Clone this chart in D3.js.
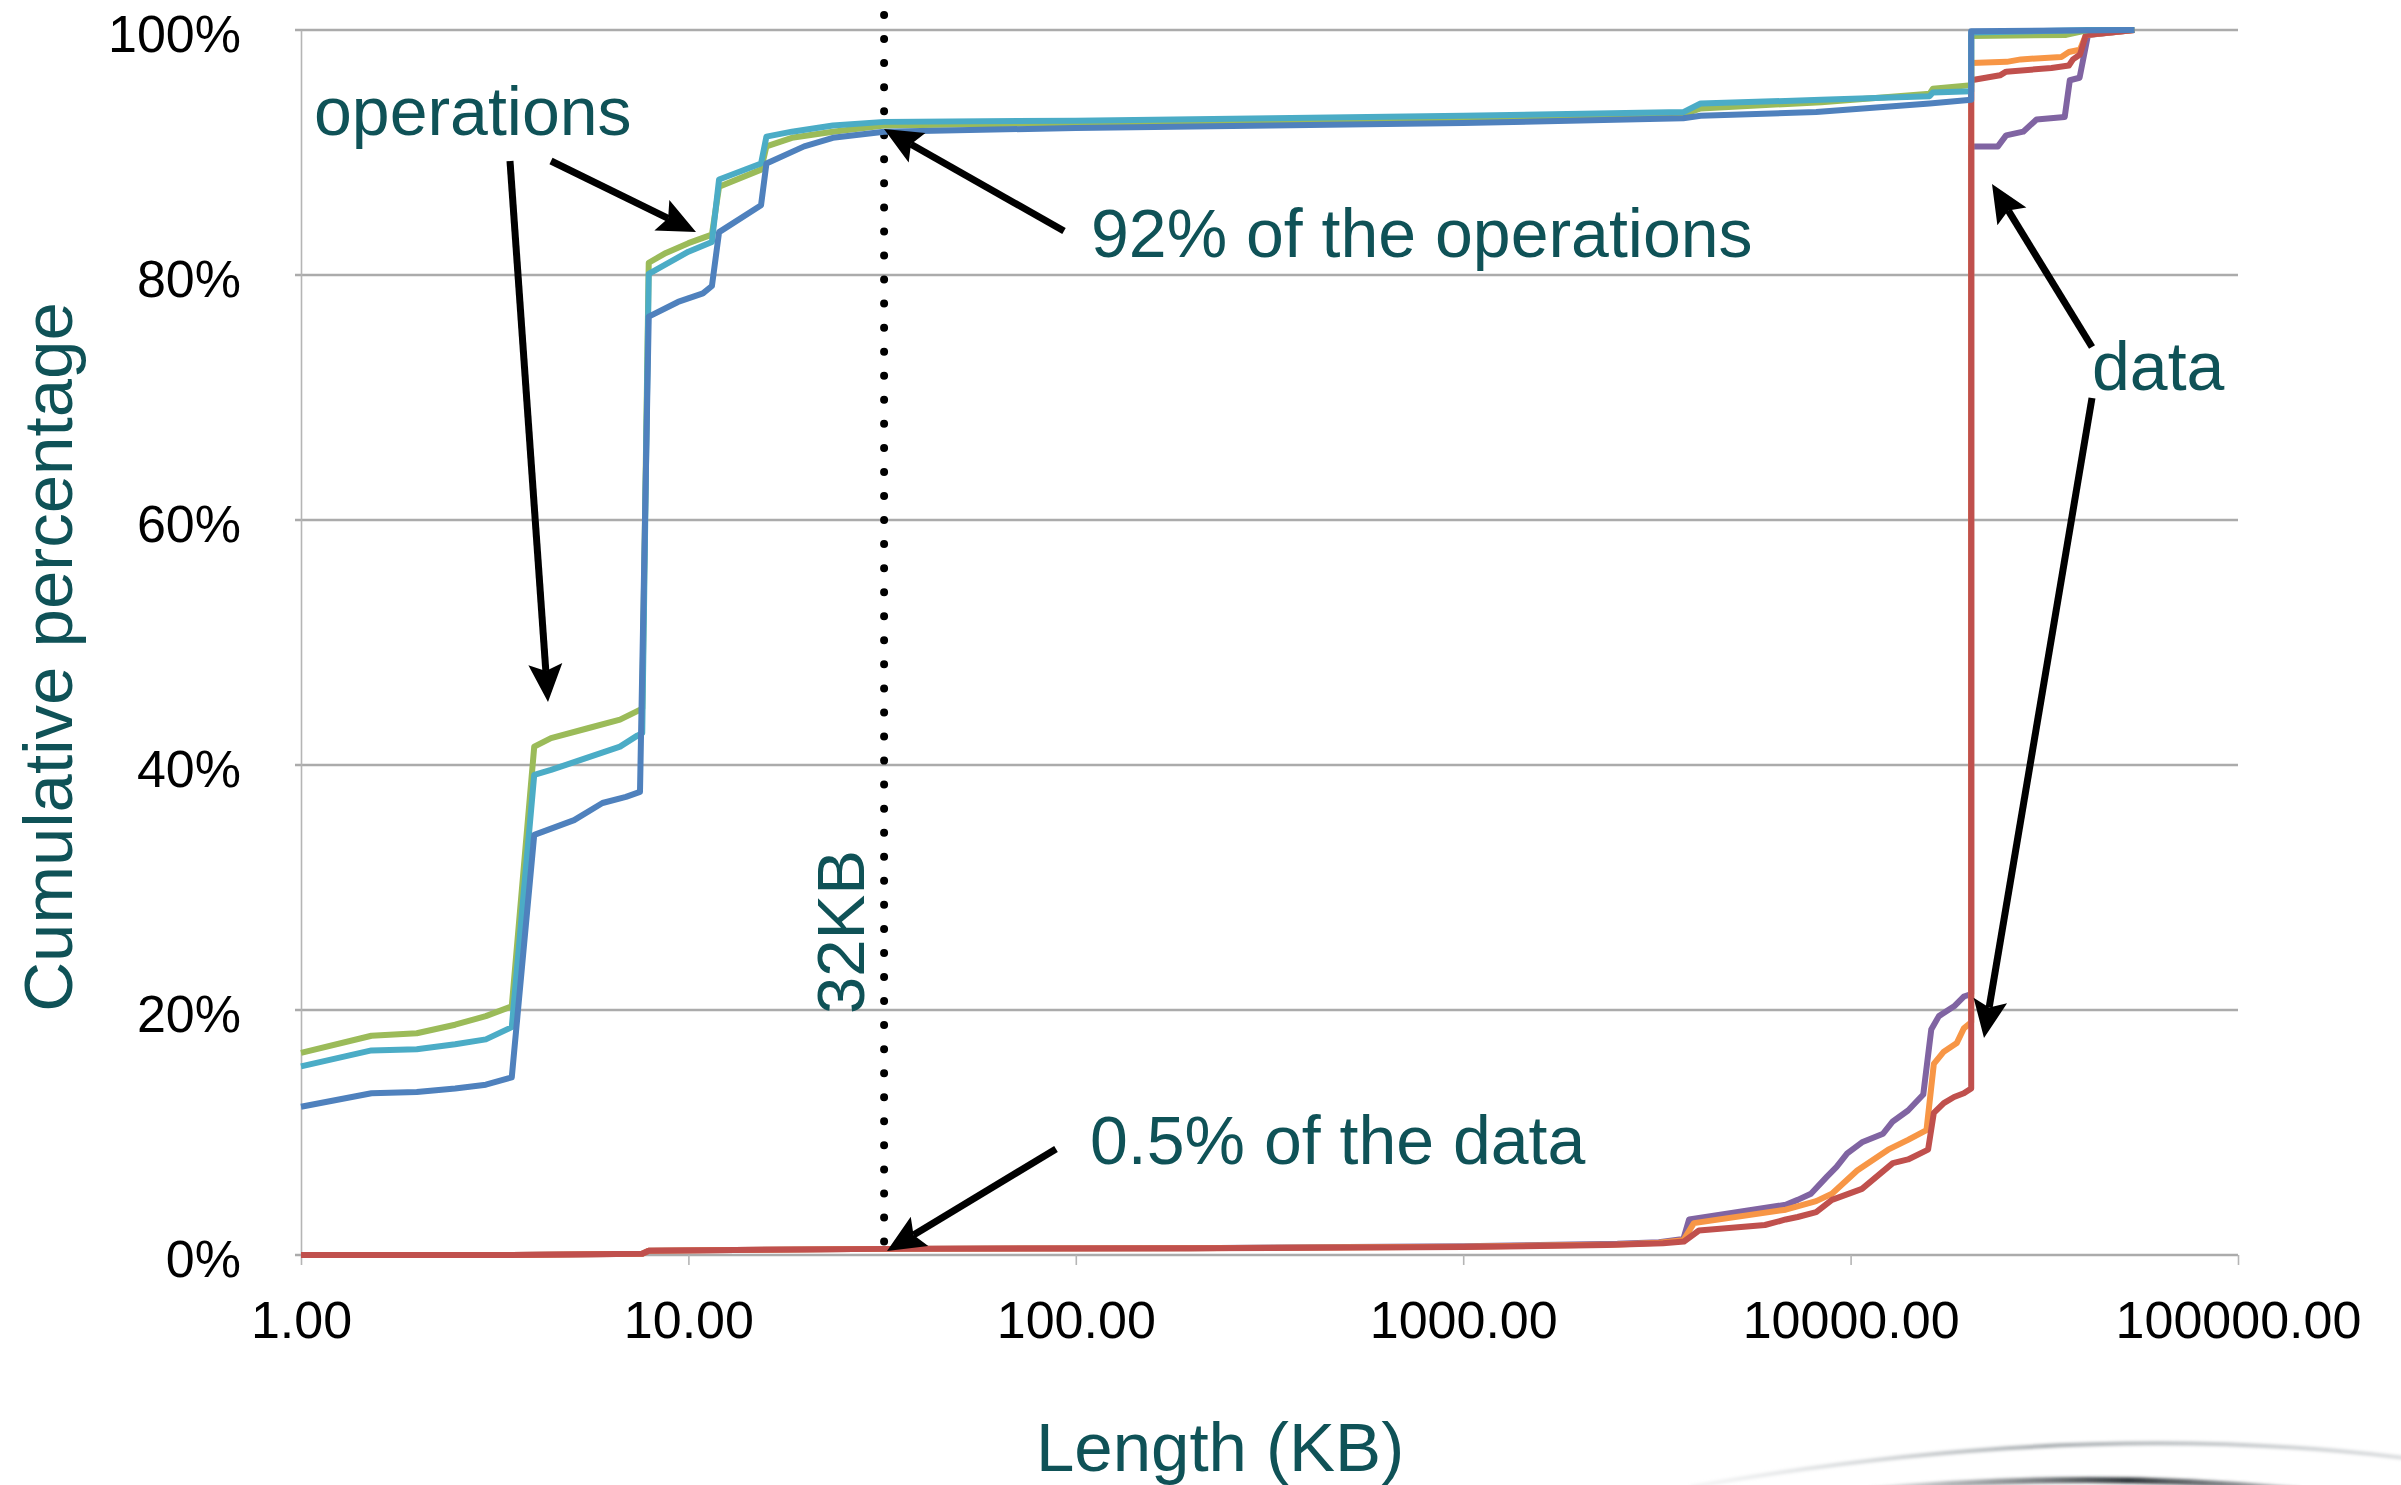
<!DOCTYPE html>
<html>
<head>
<meta charset="utf-8">
<script src="https://cdn.jsdelivr.net/npm/d3@7"></script>
<style>
  html, body { margin: 0; padding: 0; background: #ffffff; }
  svg { display: block; }
  text { font-family: "Liberation Sans", Arial, Helvetica, sans-serif; }
</style>
</head>
<body>
<svg id="chart" width="2401" height="1485"></svg>
<script>
// ---- data: [length in KB, cumulative percent] ----
const xTicks = [1, 10, 100, 1000, 10000, 100000];
const yTicks = [0, 20, 40, 60, 80, 100];

const opsBlue = [[1,12.1],[1.52,13.2],[1.99,13.3],[2.5,13.6],[3.0,13.9],[3.5,14.5],[4.0,34.3],[5.07,35.5],[6.0,36.9],[6.9,37.4],[7.5,37.8],[7.9,76.6],[9.4,77.8],[10.9,78.5],[11.5,79.1],[12.0,83.5],[15.4,85.7],[15.9,89.1],[19.9,90.5],[23.6,91.2],[32,91.7],[100,92.0],[320,92.2],[1000,92.4],[3700,92.8],[4100,93.0],[8150,93.3],[16000,94.0],[20480,94.3],[20480,99.9],[54000,100]];
const opsGreen = [[1,16.5],[1.52,17.9],[1.99,18.1],[2.5,18.8],[3.0,19.5],[3.5,20.3],[4.0,41.5],[4.42,42.2],[5.5,43.0],[6.66,43.7],[7.38,44.4],[7.6,44.6],[7.9,81.0],[8.75,81.8],[10.0,82.6],[11.5,83.3],[12.0,87.2],[15.4,88.6],[15.9,90.5],[18.5,91.2],[23.6,91.7],[32,92.2],[100,92.4],[320,92.5],[1000,92.7],[3700,93.1],[4100,93.6],[8400,94.1],[16000,94.8],[16300,95.2],[20480,95.5],[20480,99.5],[36000,99.6],[41000,100],[54000,100]];
const opsAqua = [[1,15.4],[1.52,16.7],[1.99,16.8],[2.5,17.2],[3.0,17.6],[3.5,18.6],[4.0,39.2],[4.42,39.6],[5.25,40.4],[6.66,41.5],[7.38,42.4],[7.6,42.6],[7.9,80.1],[10.0,81.9],[11.5,82.7],[12.0,87.8],[15.4,89.1],[15.9,91.3],[18.5,91.7],[23.6,92.2],[32,92.5],[100,92.6],[320,92.8],[1000,93.0],[3700,93.3],[4100,94.0],[8400,94.3],[16000,94.6],[16300,94.9],[20480,95.0],[20480,99.8],[41000,100],[54000,100]];

const dataRed = [[1,0],[3.5,0],[7.6,0.1],[7.9,0.35],[32,0.5],[200,0.55],[1000,0.65],[2350,0.82],[3280,0.95],[3715,1.1],[4060,2.0],[6010,2.45],[6800,2.9],[7300,3.1],[8150,3.5],[8950,4.5],[10700,5.4],[12850,7.5],[14070,7.8],[15850,8.6],[16400,11.6],[17400,12.4],[18500,12.9],[19600,13.2],[20480,13.6],[20480,95.9],[24300,96.3],[25200,96.6],[33000,96.9],[36600,97.1],[37500,97.6],[39100,98.0],[40500,99.6],[54000,100]];
const dataPurple = [[1,0],[3.5,0],[7.6,0.1],[7.9,0.35],[32,0.5],[200,0.56],[1000,0.72],[2500,0.92],[3200,1.05],[3700,1.3],[3830,2.9],[6800,4.1],[7300,4.5],[7900,5.0],[8690,6.4],[9200,7.2],[9800,8.3],[10700,9.2],[12130,9.9],[12850,10.9],[14070,11.8],[15400,13.1],[16150,18.4],[16900,19.5],[18500,20.3],[19600,21.1],[20480,21.3],[20480,90.5],[24000,90.5],[25200,91.4],[27900,91.7],[30200,92.7],[35700,92.9],[36800,95.9],[39000,96.1],[41000,99.6],[54000,100]];
const dataOrange = [[1,0],[3.5,0],[7.6,0.1],[7.9,0.35],[32,0.5],[200,0.55],[1000,0.68],[2500,0.86],[3200,1.0],[3700,1.2],[3940,2.6],[6800,3.7],[8150,4.4],[8950,5.0],[10400,6.9],[12500,8.6],[14070,9.4],[15700,10.2],[16400,15.6],[17400,16.6],[18800,17.3],[19600,18.5],[20480,19.0],[20480,97.3],[25300,97.4],[27500,97.6],[35000,97.8],[36600,98.2],[39100,98.4],[40500,99.6],[54000,100]];

// drawing order: data curves underneath, operation curves on top
const seriesList = [
  { name: "data B", values: dataPurple, color: "#8064a2" },
  { name: "data C", values: dataOrange, color: "#f79646" },
  { name: "data A", values: dataRed,    color: "#c0504d" },
  { name: "ops B",  values: opsGreen,   color: "#9bbb59" },
  { name: "ops C",  values: opsAqua,    color: "#4bacc6" },
  { name: "ops A",  values: opsBlue,    color: "#4f81bd" }
];

const markerKB = 32;
const annotations = [
  { text: "operations",            x: 314,  y: 135 },
  { text: "92% of the operations", x: 1091, y: 257 },
  { text: "data",                  x: 2092, y: 390 },
  { text: "0.5% of the data",      x: 1090, y: 1164 }
];
// arrows: tail -> tip
const arrows = [
  [[510, 161], [548, 702]],
  [[551, 161], [696, 232]],
  [[1064, 231], [884, 129]],
  [[1056, 1149], [887, 1251]],
  [[2092, 347], [1992, 184]],
  [[2092, 398], [1984, 1038]]
];

// ---- layout ----
const teal = "#0f5257";
const plotLeft = 301, plotRight = 2238, plotTop = 30, plotBottom = 1255;

const svg = d3.select("#chart");
const x = d3.scaleLog().domain([1, 100000]).range([plotLeft, plotRight]);
const y = d3.scaleLinear().domain([0, 100]).range([plotBottom, plotTop]);

// background swoosh at bottom right
const defs = svg.append("defs");
defs.append("filter").attr("id", "soft")
  .append("feGaussianBlur").attr("stdDeviation", 1.6);
const g1 = defs.append("linearGradient").attr("id", "sw1").attr("x1", "0").attr("x2", "1");
g1.append("stop").attr("offset", "0").attr("stop-color", "#c9cdd0").attr("stop-opacity", 0.2);
g1.append("stop").attr("offset", "0.5").attr("stop-color", "#9ea4a8").attr("stop-opacity", 0.9);
g1.append("stop").attr("offset", "1").attr("stop-color", "#c4c8cb").attr("stop-opacity", 0.6);
const g2 = defs.append("linearGradient").attr("id", "sw2").attr("x1", "0").attr("x2", "1");
g2.append("stop").attr("offset", "0").attr("stop-color", "#8a9094").attr("stop-opacity", 0.3);
g2.append("stop").attr("offset", "0.6").attr("stop-color", "#2e3438").attr("stop-opacity", 1);
g2.append("stop").attr("offset", "1").attr("stop-color", "#6d7377").attr("stop-opacity", 0.5);
const sw = svg.append("g").attr("filter", "url(#soft)");
sw.append("path").attr("d", "M1690,1487 Q2080,1418 2405,1458")
  .attr("fill", "none").attr("stroke", "url(#sw1)").attr("stroke-width", 4);
sw.append("path").attr("d", "M1870,1490 Q2090,1470 2300,1490")
  .attr("fill", "none").attr("stroke", "url(#sw2)").attr("stroke-width", 6);

// gridlines
svg.append("g").selectAll("line").data(yTicks).join("line")
  .attr("x1", plotLeft - 6).attr("x2", plotRight)
  .attr("y1", d => y(d)).attr("y2", d => y(d))
  .attr("stroke", "#ababab").attr("stroke-width", 2.6);

// y axis
const yAxis = svg.append("g").attr("transform", `translate(${plotLeft},0)`)
  .call(d3.axisLeft(y).tickValues(yTicks).tickFormat(d => d + "%").tickSize(0));
yAxis.select(".domain").attr("stroke", "#b5b5b5").attr("stroke-width", 1.6);
yAxis.selectAll("text")
  .attr("x", -60).attr("dy", null)
  .attr("transform", "translate(0,21)")
  .attr("fill", "#000").attr("font-size", 52).attr("text-anchor", "end")
  .style("font-family", "'Liberation Sans', Arial, sans-serif");

// x axis
const xAxis = svg.append("g").attr("transform", `translate(0,${plotBottom})`)
  .call(d3.axisBottom(x).tickValues(xTicks).tickFormat(d3.format(".2f")).tickSize(10));
xAxis.select(".domain").remove();
xAxis.selectAll(".tick line").attr("stroke", "#b5b5b5").attr("stroke-width", 1.6);
xAxis.selectAll("text")
  .attr("y", 83).attr("dy", null)
  .attr("fill", "#000").attr("font-size", 52)
  .style("font-family", "'Liberation Sans', Arial, sans-serif");

// 32 KB marker
svg.append("line")
  .attr("x1", x(markerKB)).attr("x2", x(markerKB))
  .attr("y1", 15).attr("y2", plotBottom)
  .attr("stroke", "#000").attr("stroke-width", 8)
  .attr("stroke-linecap", "round").attr("stroke-dasharray", "0 24.05");

// series
const line = d3.line().x(d => x(d[0])).y(d => y(d[1]));
svg.append("g").selectAll("path").data(seriesList).join("path")
  .attr("d", d => line(d.values))
  .attr("fill", "none")
  .attr("stroke", d => d.color)
  .attr("stroke-width", 6)
  .attr("stroke-linejoin", "round")
  .attr("stroke-linecap", "butt");

// callout arrows
const arrowG = svg.append("g");
arrows.forEach(([t, h]) => {
  const dx = h[0] - t[0], dy = h[1] - t[1];
  const len = Math.hypot(dx, dy);
  const ux = dx / len, uy = dy / len;
  const nx = -uy, ny = ux;
  const L = 38, W = 17, notch = 7;
  const bx = h[0] - L * ux, by = h[1] - L * uy;
  const mx = h[0] - (L - notch) * ux, my = h[1] - (L - notch) * uy;
  arrowG.append("line")
    .attr("x1", t[0]).attr("y1", t[1]).attr("x2", mx).attr("y2", my)
    .attr("stroke", "#000").attr("stroke-width", 7);
  arrowG.append("path")
    .attr("d", `M${h[0]},${h[1]} L${bx + W * nx},${by + W * ny} L${mx},${my} L${bx - W * nx},${by - W * ny} Z`)
    .attr("fill", "#000");
});

// annotation labels
svg.append("g").selectAll("text").data(annotations).join("text")
  .attr("x", d => d.x).attr("y", d => d.y)
  .attr("fill", teal).attr("font-size", 68)
  .text(d => d.text);

svg.append("text")
  .attr("transform", `translate(864,1014) rotate(-90)`)
  .attr("fill", teal).attr("font-size", 67)
  .text(markerKB + "KB");

// axis titles
svg.append("text")
  .attr("transform", "translate(72,657) rotate(-90)")
  .attr("text-anchor", "middle")
  .attr("fill", teal).attr("font-size", 69)
  .text("Cumulative percentage");

svg.append("text")
  .attr("x", 1220).attr("y", 1471)
  .attr("text-anchor", "middle")
  .attr("fill", teal).attr("font-size", 69)
  .text("Length (KB)");
</script>
</body>
</html>
